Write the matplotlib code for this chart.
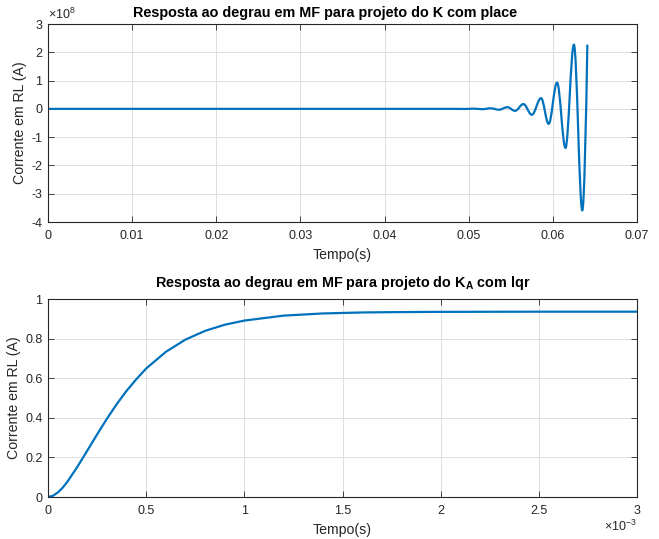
import matplotlib
matplotlib.use("Agg")
import matplotlib.pyplot as plt
from matplotlib.path import Path
from matplotlib.patches import PathPatch

plt.rcParams['font.family'] = ['Liberation Sans', 'DejaVu Sans']
plt.rcParams['mathtext.fontset'] = 'custom'
plt.rcParams['mathtext.rm'] = 'Liberation Sans'
plt.rcParams['mathtext.bf'] = 'Liberation Sans:bold'
plt.rcParams['mathtext.it'] = 'Liberation Sans:italic'

# ---- Data: top plot (place): turning points of the response ----
# time in s, current in units of 1e8 A
t_place = [0.0, 0.0480, 0.0496, 0.0506, 0.0516, 0.0526, 0.0536, 0.0546,
           0.0555, 0.0565, 0.0575, 0.0586, 0.0595, 0.0605, 0.0615, 0.0625,
           0.0635, 0.0641]
i_place = [0.0, 0.0, -0.004, 0.008, -0.012, 0.02, -0.03, 0.06,
           -0.07, 0.17, -0.21, 0.38, -0.53, 0.93, -1.38, 2.27,
           -3.59, 2.27]

# ---- Data: bottom plot (lqr), time in ms, current in A ----
t_lqr = [0.0, 0.025, 0.05, 0.075, 0.1, 0.15, 0.2, 0.25, 0.3, 0.35, 0.4, 0.45,
         0.5, 0.6, 0.7, 0.8, 0.9, 1.0, 1.2, 1.4, 1.6, 1.8, 2.0, 2.5, 3.0]
i_lqr = [0.0, 0.006, 0.023, 0.047, 0.079, 0.153, 0.234, 0.316, 0.395, 0.469,
         0.536, 0.595, 0.649, 0.733, 0.795, 0.839, 0.870, 0.891, 0.916, 0.927,
         0.932, 0.934, 0.935, 0.936, 0.936]

title_top = 'Resposta ao degrau em MF para projeto do K com place'
title_bot = r'Resposta ao degrau em MF para projeto do K$_\mathbf{A}$ com lqr'
xlabel = 'Tempo(s)'
ylabel = 'Corrente em RL (A)'
xt_top = ['0', '0.01', '0.02', '0.03', '0.04', '0.05', '0.06', '0.07']
yt_top = ['-4', '-3', '-2', '-1', '0', '1', '2', '3']
xt_bot = ['0', '0.5', '1', '1.5', '2', '2.5', '3']
yt_bot = ['0', '0.2', '0.4', '0.6', '0.8', '1']

line_color = '#0072BD'
txt_color = '#262626'
TICK_FS = 9
LABEL_FS = 10.2

fig = plt.figure(figsize=(6.59, 5.39), dpi=100)
ax1 = fig.add_axes([48/659, 1-222/539, (637-48)/659, 198/539])
ax2 = fig.add_axes([48/659, 1-497/539, (637-48)/659, 198/539])


def style(ax):
    for s in ax.spines.values():
        s.set_color(txt_color)
        s.set_linewidth(0.8)
    ax.tick_params(direction='in', length=4, width=0.6, colors=txt_color,
                   labelsize=TICK_FS, top=True, right=True)
    ax.tick_params(axis='x', pad=6)
    ax.tick_params(axis='y', pad=4)
    ax.grid(True, color='#dedede', linewidth=0.7)
    ax.set_axisbelow(True)


# Top: smooth curve through the turning points (horizontal tangent at extrema)
verts = [(t_place[0], i_place[0] * 1e8)]
codes = [Path.MOVETO]
n = len(t_place)
for k in range(1, n):
    t1, v1 = t_place[k - 1], i_place[k - 1] * 1e8
    t2, v2 = t_place[k], i_place[k] * 1e8
    dt = t2 - t1
    if k == 1:
        verts.append((t2, v2)); codes.append(Path.LINETO)
        continue
    c1 = (t1 + 0.36 * dt, v1)
    if k == n - 1:
        c2 = (t2 - 0.25 * dt, v2 - 0.45 * (v2 - v1))
    else:
        c2 = (t2 - 0.36 * dt, v2)
    verts += [c1, c2, (t2, v2)]
    codes += [Path.CURVE4, Path.CURVE4, Path.CURVE4]
ax1.add_patch(PathPatch(Path(verts, codes), fill=False, edgecolor=line_color,
                        lw=1.6, capstyle='butt', joinstyle='round'))
ax1.set_xlim(0, 0.07)
ax1.set_ylim(-4e8, 3e8)
ax1.set_xticks([0, 0.01, 0.02, 0.03, 0.04, 0.05, 0.06, 0.07])
ax1.set_xticklabels(xt_top)
ax1.set_yticks([-4e8, -3e8, -2e8, -1e8, 0, 1e8, 2e8, 3e8])
ax1.set_yticklabels(yt_top)
style(ax1)
ax1.text(0.0, 1.012, r'$\times\mathregular{10^{8}}$', transform=ax1.transAxes,
         ha='left', va='bottom', fontsize=TICK_FS, color=txt_color)
ax1.set_title(title_top, fontsize=10.4, fontweight='bold', color='black',
              pad=5, x=(325 - 48) / 589)
ax1.set_xlabel(xlabel, fontsize=LABEL_FS, color=txt_color, labelpad=4)
ax1.set_ylabel(ylabel, fontsize=LABEL_FS, color=txt_color, labelpad=3)

# Bottom
ax2.plot([t * 1e-3 for t in t_lqr], i_lqr, color=line_color, lw=1.6)
ax2.set_xlim(0, 3e-3)
ax2.set_ylim(0, 1)
ax2.set_xticks([0, 0.5e-3, 1e-3, 1.5e-3, 2e-3, 2.5e-3, 3e-3])
ax2.set_xticklabels(xt_bot)
ax2.set_yticks([0, 0.2, 0.4, 0.6, 0.8, 1])
ax2.set_yticklabels(yt_bot)
style(ax2)
ax2.text(1.0, -0.11, r'$\times\mathregular{10^{-3}}$', transform=ax2.transAxes,
         ha='right', va='top', fontsize=TICK_FS, color=txt_color)
ax2.set_title(title_bot, fontsize=10.4, fontweight='bold', color='black', pad=8.5)
ax2.set_xlabel(xlabel, fontsize=LABEL_FS, color=txt_color, labelpad=4)
ax2.set_ylabel(ylabel, fontsize=LABEL_FS, color=txt_color, labelpad=3)

fig.savefig('out.png', dpi=100)
